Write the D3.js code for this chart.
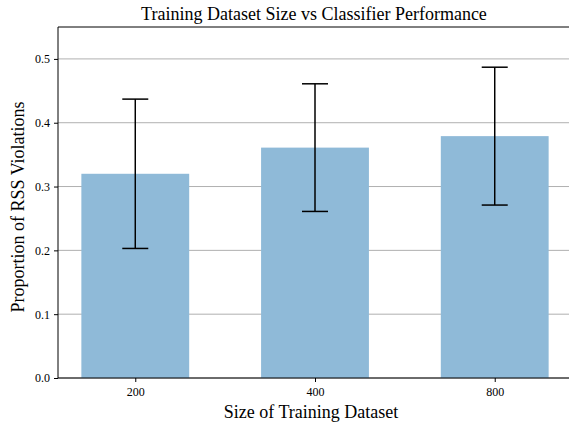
<!DOCTYPE html>
<html><head><meta charset="utf-8">
<script src="https://cdn.jsdelivr.net/npm/d3@7"></script>
<style>body{margin:0;background:#fff}svg{display:block}</style>
</head><body><svg id="c" width="569" height="426"></svg>
<script>
const categories = ["200", "400", "800"];
const means = [0.320, 0.361, 0.379];
const errors = [0.117, 0.100, 0.108];
const yTicks = [0.0, 0.1, 0.2, 0.3, 0.4, 0.5];

const FONT = "'Liberation Serif', 'Times New Roman', serif";
const svg = d3.select("#c");
const L = 58, T = 27, B = 378, R = 572;
const x = d3.scaleLinear().domain([-0.43, 2.43]).range([L, R]);
const y = d3.scaleLinear().domain([0, 0.55]).range([B, T]);
const bw = 0.6;

// grid
svg.append("g").selectAll("line").data(yTicks).join("line")
  .attr("x1", L).attr("x2", R).attr("y1", d => y(d)).attr("y2", d => y(d))
  .attr("stroke", "#b0b0b0").attr("stroke-width", 1);

// bars
svg.append("g").selectAll("rect").data(means).join("rect")
  .attr("x", (d, i) => x(i - bw / 2)).attr("width", (d, i) => x(i + bw / 2) - x(i - bw / 2))
  .attr("y", d => y(d)).attr("height", d => B - y(d))
  .attr("fill", "#8fbad8");

// error bars
const eg = svg.append("g").attr("stroke", "#000").attr("stroke-width", 1.5);
means.forEach((m, i) => {
  const cx = x(i), lo = y(m - errors[i]), hi = y(m + errors[i]);
  eg.append("line").attr("x1", cx).attr("x2", cx).attr("y1", lo).attr("y2", hi);
  eg.append("line").attr("x1", cx - 13).attr("x2", cx + 13).attr("y1", lo).attr("y2", lo);
  eg.append("line").attr("x1", cx - 13).attr("x2", cx + 13).attr("y1", hi).attr("y2", hi);
});

// axes
const ya = d3.axisLeft(y).tickValues(yTicks).tickFormat(d3.format(".1f")).tickSize(4).tickPadding(4);
const yg = svg.append("g").attr("transform", `translate(${L},0)`).call(ya);
const xa = d3.axisBottom(x).tickValues([0, 1, 2]).tickFormat(i => categories[i]).tickSize(4).tickPadding(5);
const xg = svg.append("g").attr("transform", `translate(0,${B})`).call(xa);
[yg, xg].forEach(g => {
  g.attr("font-family", null).attr("font-size", null);
  g.select(".domain").remove();
  g.selectAll("line").attr("stroke", "#000");
  g.selectAll("text").style("font-family", FONT).style("font-size", "12px").attr("fill", "#000");
});
// spines
svg.append("line").attr("x1", L).attr("x2", L).attr("y1", T).attr("y2", B).attr("stroke", "#000");
svg.append("line").attr("x1", L).attr("x2", R).attr("y1", B).attr("y2", B).attr("stroke", "#000");
svg.append("line").attr("x1", L).attr("x2", R).attr("y1", T).attr("y2", T).attr("stroke", "#000");

// labels
const lab = (t) => t.style("font-family", FONT).style("font-size", "18px").attr("fill", "#000").attr("text-anchor", "middle");
lab(svg.append("text").attr("x", 314).attr("y", 20)).text("Training Dataset Size vs Classifier Performance");
lab(svg.append("text").attr("x", 311).attr("y", 418)).text("Size of Training Dataset");
lab(svg.append("text").attr("transform", "translate(24,207) rotate(-90)")).text("Proportion of RSS Violations");
</script></body></html>
